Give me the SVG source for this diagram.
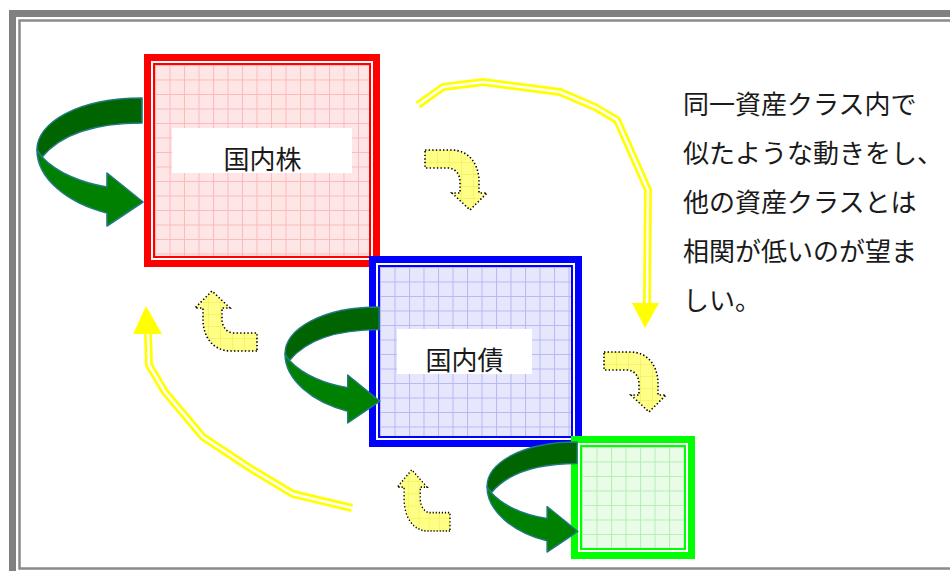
<svg xmlns="http://www.w3.org/2000/svg" width="950" height="571" viewBox="0 0 950 571">
<style>
.lbl{font-family:"Noto Sans CJK JP","Noto Sans CJK SC",sans-serif;font-size:26px;fill:#1a1a1a}
.note{font-family:"Noto Sans CJK JP","Noto Sans CJK SC",sans-serif;font-size:26px;fill:#1a1a1a}
.dk{fill:#006400;stroke:#1f7a80;stroke-width:1.6;stroke-linejoin:round}
.lt{fill:#008000;stroke:#1f7a80;stroke-width:1.6;stroke-linejoin:round}
.bent{fill:url(#gridY);stroke:#000;stroke-width:1.6;stroke-dasharray:1.4 2.2}
.yo{fill:none;stroke:#ffff00;stroke-width:8;stroke-linejoin:miter}
.yi{fill:none;stroke:#fff;stroke-width:2.6;stroke-linejoin:miter}
.yh{fill:#ffff00}
</style>
<defs>
<pattern id="gridR" patternUnits="userSpaceOnUse" x="155" y="65" width="14.5" height="14.5"><rect width="14.5" height="14.5" fill="#ffe6e6"/><path d="M0,0.5H14.5M0.5,0V14.5" stroke="#ffb8b8" stroke-width="1"/></pattern>
<pattern id="gridB" patternUnits="userSpaceOnUse" x="380" y="267" width="14.5" height="14.5"><rect width="14.5" height="14.5" fill="#e6e6fc"/><path d="M0,0.5H14.5M0.5,0V14.5" stroke="#b8b8f6" stroke-width="1"/></pattern>
<pattern id="gridG" patternUnits="userSpaceOnUse" x="582" y="447" width="14.5" height="14.5"><rect width="14.5" height="14.5" fill="#e8fce8"/><path d="M0,0.5H14.5M0.5,0V14.5" stroke="#b4f0b4" stroke-width="1"/></pattern>
<pattern id="gridY" patternUnits="userSpaceOnUse" width="12" height="12"><rect width="12" height="12" fill="#ffff88"/><path d="M0,0.5H12M0.5,0V12" stroke="#f4f060" stroke-width="0.8"/></pattern>
<g id="greenArrow">
<path class="dk" d="M105,0 C40,0 0,25 0,52 L5,59 C25,35 60,25 105,25 Z"/>
<path class="lt" d="M0,52 C0,80 30,105 70,115 L70,128 L106,104 L70,75 L70,89 C45,85 20,75 5,59 Z"/>
</g>
<path id="bentArrow" d="M0,0 L26,0 C44,0 54,14 54,32 L54,43 L62,43 L45,60 L27,43 L35,43 L35,32 C35,24 30,18 23,18 L0,18 Z"/>
</defs>
<rect width="950" height="571" fill="#fff"/>
<g id="frame" fill="none">
<rect x="12.5" y="13.5" width="980" height="620" stroke="#808080" stroke-width="7"/>
<rect x="19.5" y="20.5" width="980" height="548" stroke="#8a8a8a" stroke-width="2.5"/>
</g>
<g id="node-kokunai-kabu">
<rect x="147.5" y="57.5" width="229" height="206" fill="#fff" stroke="#ff0000" stroke-width="7"/>
<rect x="154" y="64" width="216" height="193" fill="url(#gridR)" stroke="#ff0000" stroke-width="2"/>
<rect x="172" y="128" width="180" height="45" fill="#fff"/>
<text class="lbl" x="262.5" y="169" text-anchor="middle">国内株</text>
</g>
<g id="node-kokunai-sai">
<rect x="372.5" y="259.5" width="206" height="184" fill="#fff" stroke="#0000ff" stroke-width="7"/>
<rect x="379" y="266" width="193" height="171" fill="url(#gridB)" stroke="#0000ff" stroke-width="2"/>
<rect x="397" y="329" width="135" height="45" fill="#fff"/>
<text class="lbl" x="464.5" y="370" text-anchor="middle">国内債</text>
</g>
<g id="node-green">
<rect x="574.5" y="439.5" width="117" height="116" fill="#fff" stroke="#00ff00" stroke-width="7"/>
<rect x="581" y="446" width="104" height="103" fill="url(#gridG)" stroke="#00ff00" stroke-width="2"/>
</g>
<g id="connectors">
<use href="#greenArrow" transform="translate(37,98)"/>
<use href="#greenArrow" transform="translate(285,307) scale(0.896,0.906)"/>
<use href="#greenArrow" transform="translate(487,442) scale(0.858,0.86)"/>
<use href="#bentArrow" class="bent" transform="translate(425,150)"/>
<use href="#bentArrow" class="bent" transform="translate(604,352)"/>
<use href="#bentArrow" class="bent" transform="translate(257,351) rotate(180)"/>
<use href="#bentArrow" class="bent" transform="translate(450,531) scale(-0.85,-1.02)"/>
<polyline class="yo" points="418,105 443,87 483,82 560,92 595,107 617,120 648,190 647,304"/>
<polyline class="yi" points="418,105 443,87 483,82 560,92 595,107 617,120 648,190 647,304"/>
<polygon class="yh" points="632,303 659,303 645,328"/>
<polyline class="yo" points="352,508 293,494 253,470 203,437 165,392 149,365 148,334"/>
<polyline class="yi" points="352,508 293,494 253,470 203,437 165,392 149,365 148,334"/>
<polygon class="yh" points="133,334 162,334 146,306"/>
</g>
<g id="note">
<text class="note" x="683" y="114">同一資産クラス内で</text>
<text class="note" x="683" y="163">似たような動きをし、</text>
<text class="note" x="683" y="212">他の資産クラスとは</text>
<text class="note" x="683" y="261">相関が低いのが望ま</text>
<text class="note" x="683" y="310">しい。</text>
</g>
</svg>
